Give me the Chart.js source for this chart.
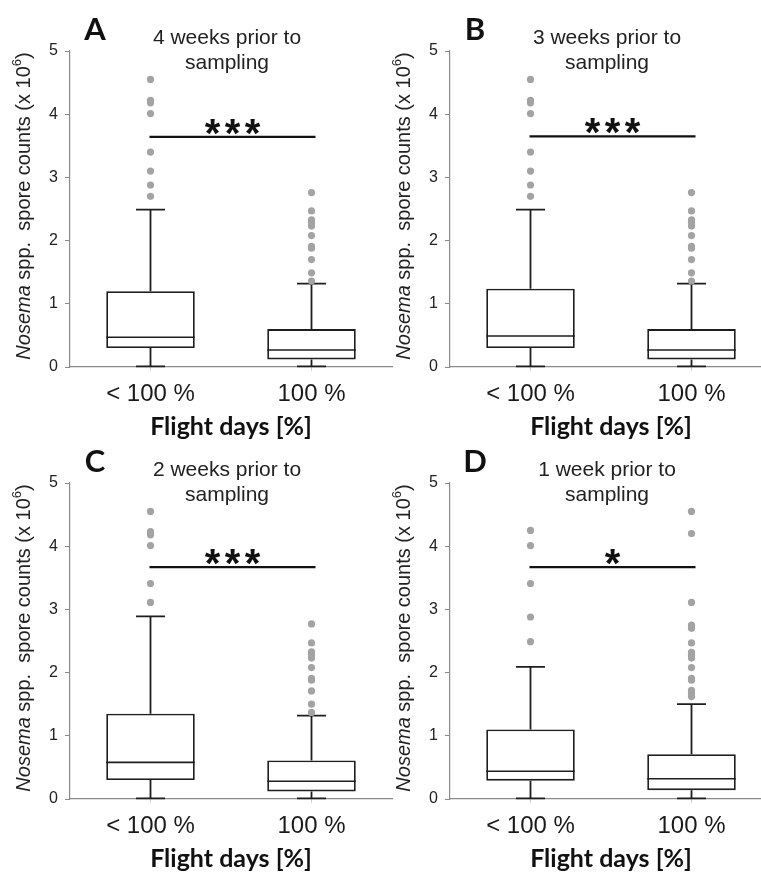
<!DOCTYPE html>
<html><head><meta charset="utf-8">
<script src="https://cdn.jsdelivr.net/npm/chart.js@4.4.1/dist/chart.umd.min.js"></script>
<style>
html,body{margin:0;padding:0;background:#fff;overflow:hidden;width:761px;height:874px;position:relative;}
canvas{position:absolute;}
</style></head><body>
<canvas id="c0" width="400" height="442" style="left:0;top:0"></canvas>
<canvas id="c1" width="400" height="442" style="left:380px;top:0"></canvas>
<canvas id="c2" width="400" height="442" style="left:0;top:432px"></canvas>
<canvas id="c3" width="400" height="442" style="left:380px;top:432px"></canvas>
<script>
// ---- data (spore counts x 10^6) ----
const categories = ['< 100 %', '100 %'];
const panelLetters = ['A', 'B', 'C', 'D'];
const panelTitles = [
  ['4 weeks prior to', 'sampling'],
  ['3 weeks prior to', 'sampling'],
  ['2 weeks prior to', 'sampling'],
  ['1 week prior to', 'sampling']
];
const significance = ['***', '***', '***', '*'];
const significanceLevel = [3.64, 3.65, 3.67, 3.67];
const yTicks = [0, 1, 2, 3, 4, 5];
const xAxisTitle = 'Flight days [%]';

const lowerWhisker = [[0.01, 0.01], [0.01, 0.01], [0.01, 0.01], [0.01, 0.01]];
const q1Values     = [[0.30, 0.12], [0.30, 0.12], [0.30, 0.12], [0.29, 0.14]];
const medianValues = [[0.47, 0.27], [0.49, 0.27], [0.58, 0.28], [0.44, 0.32]];
const q3Values     = [[1.20, 0.60], [1.24, 0.60], [1.35, 0.61], [1.10, 0.71]];
const upperWhisker = [[2.49, 1.32], [2.49, 1.32], [2.89, 1.32], [2.09, 1.50]];

const outliersBelow100 = [
  [2.70, 2.88, 3.10, 3.40, 4.01, 4.18, 4.22, 4.55],
  [2.70, 2.88, 3.10, 3.40, 4.01, 4.18, 4.22, 4.55],
  [3.11, 3.41, 4.01, 4.18, 4.23, 4.55],
  [2.49, 2.88, 3.41, 4.01, 4.25]
];
const outliers100 = [
  [1.36, 1.49, 1.70, 1.88, 1.91, 2.08, 2.23, 2.29, 2.33, 2.47, 2.76],
  [1.36, 1.49, 1.70, 1.88, 1.91, 2.08, 2.23, 2.29, 2.33, 2.47, 2.76],
  [1.37, 1.50, 1.71, 1.88, 1.91, 2.08, 2.23, 2.29, 2.33, 2.47, 2.77],
  [1.62, 1.67, 1.72, 1.88, 1.91, 2.08, 2.23, 2.27, 2.32, 2.47, 2.70, 2.75, 3.11, 4.20, 4.55]
];

// ---- rendering ----
const INK = '#1e1e1e';
const AXIS = '#8a8a8a';
const SANS = '"Liberation Sans", Arial, sans-serif';
const BOLD = 'Lato, "Open Sans", sans-serif';

const boxPlugin = {
  id: 'boxParts',
  beforeDatasetsDraw(chart, args, opts) {
    const p = opts.panel;
    const {ctx, scales: {x, y}} = chart;
    ctx.save();
    ctx.strokeStyle = INK;
    ctx.lineWidth = 1.8;
    categories.forEach((c, i) => {
      const cx = x.getPixelForValue(i);
      const capHalf = 14.5;
      const segs = [[lowerWhisker[p][i], q1Values[p][i]], [q3Values[p][i], upperWhisker[p][i]]];
      ctx.beginPath();
      segs.forEach(([a, b]) => {
        ctx.moveTo(cx, y.getPixelForValue(a));
        ctx.lineTo(cx, y.getPixelForValue(b));
      });
      [lowerWhisker[p][i], upperWhisker[p][i]].forEach(v => {
        const py = y.getPixelForValue(v);
        ctx.moveTo(cx - capHalf, py);
        ctx.lineTo(cx + capHalf, py);
      });
      ctx.stroke();
    });
    ctx.restore();
  },
  afterDatasetsDraw(chart, args, opts) {
    const p = opts.panel;
    const {ctx, scales: {x, y}} = chart;
    const meta = chart.getDatasetMeta(0);
    ctx.save();
    ctx.strokeStyle = INK;
    ctx.lineWidth = 1.6;
    categories.forEach((c, i) => {
      const bar = meta.data[i];
      const half = bar.width / 2;
      const py = y.getPixelForValue(medianValues[p][i]);
      ctx.beginPath();
      ctx.moveTo(bar.x - half, py);
      ctx.lineTo(bar.x + half, py);
      ctx.stroke();
    });
    ctx.restore();
  }
};

const textPlugin = {
  id: 'panelText',
  afterDraw(chart, args, opts) {
    const p = opts.panel;
    const {ctx, chartArea: ca, scales: {x, y}} = chart;
    ctx.save();
    // panel letter
    ctx.fillStyle = '#111';
    ctx.textAlign = 'center';
    ctx.textBaseline = 'middle';
    ctx.font = 'bold 31px ' + BOLD;
    ctx.fillText(panelLetters[p], ca.left + 25, ca.top - 21);
    // panel title
    ctx.fillStyle = '#222';
    ctx.font = '21px ' + SANS;
    panelTitles[p].forEach((line, k) => ctx.fillText(line, ca.left + 157, ca.top - 13 + k * 25));
    // y-axis title with italic genus and superscript
    const parts = [
      {t: 'Nosema', f: 'italic 20px ' + SANS, dy: 0},
      {t: ' spp.  spore counts (x 10', f: '20px ' + SANS, dy: 0},
      {t: '6', f: '13px ' + SANS, dy: -7},
      {t: ')', f: '20px ' + SANS, dy: 0}
    ];
    let total = 0;
    parts.forEach(pt => { ctx.font = pt.f; pt.w = ctx.measureText(pt.t).width; total += pt.w; });
    ctx.translate(24, (ca.top + ca.bottom) / 2 - 3);
    ctx.rotate(-Math.PI / 2);
    ctx.textAlign = 'left';
    let cx = -total / 2;
    parts.forEach(pt => { ctx.font = pt.f; ctx.fillText(pt.t, cx, pt.dy); cx += pt.w; });
    ctx.setTransform(1, 0, 0, 1, 0, 0);
    ctx.restore();

    // significance bar and stars
    ctx.save();
    const x0 = x.getPixelForValue(0) - 1;
    const x1 = x.getPixelForValue(1) + 4;
    const ly = y.getPixelForValue(significanceLevel[p]);
    ctx.strokeStyle = '#111';
    ctx.lineWidth = 2.2;
    ctx.beginPath();
    ctx.moveTo(x0, ly);
    ctx.lineTo(x1, ly);
    ctx.stroke();
    ctx.fillStyle = '#111';
    ctx.font = 'bold 40px ' + SANS;
    ctx.textAlign = 'center';
    ctx.textBaseline = 'alphabetic';
    const n = significance[p].length;
    const mid = (x0 + x1) / 2;
    const m = ctx.measureText('*');
    const glyphCenter = (m.actualBoundingBoxAscent - m.actualBoundingBoxDescent) / 2;
    for (let k = 0; k < n; k++) {
      const sx = mid + (k - (n - 1) / 2) * 20;
      ctx.fillText('*', sx, ly - 10 + glyphCenter);
    }
    ctx.restore();
  }
};

Chart.defaults.font.family = SANS;
Chart.defaults.color = '#222';

for (let p = 0; p < 4; p++) {
  const outlierPoints = [];
  outliersBelow100[p].forEach(v => outlierPoints.push({x: categories[0], y: v}));
  outliers100[p].forEach(v => outlierPoints.push({x: categories[1], y: v}));
  new Chart(document.getElementById('c' + p), {
    type: 'bar',
    data: {
      labels: categories,
      datasets: [
        {
          type: 'bar',
          data: categories.map((c, i) => [q1Values[p][i], q3Values[p][i]]),
          backgroundColor: '#ffffff',
          borderColor: INK,
          borderWidth: 1.8,
          borderSkipped: false,
          barPercentage: 0.55,
          categoryPercentage: 1
        },
        {
          type: 'line',
          data: outlierPoints,
          showLine: false,
          pointRadius: 3.6,
          pointBackgroundColor: '#a3a3a3',
          pointBorderWidth: 0,
          pointBorderColor: '#a3a3a3'
        }
      ]
    },
    options: {
      responsive: false,
      animation: false,
      events: [],
      layout: {padding: {top: 51, right: 8, bottom: 0, left: 0}},
      plugins: {
        legend: {display: false},
        tooltip: {enabled: false},
        title: {display: false},
        boxParts: {panel: p},
        panelText: {panel: p}
      },
      scales: {
        x: {
          type: 'category',
          offset: true,
          grid: {display: true, drawOnChartArea: false, drawTicks: true, tickLength: 4, color: '#cfcfcf', offset: false},
          border: {display: true, color: AXIS, width: 1.2},
          ticks: {font: {size: 24, family: SANS}, color: '#1a1a1a', padding: 9},
          title: {display: true, text: xAxisTitle, font: {size: 25, weight: 'bold', family: BOLD}, color: '#111', padding: {top: 0, bottom: 0}},
          afterFit(scale) { scale.height = 75; }
        },
        y: {
          type: 'linear',
          min: 0, max: 5,
          afterBuildTicks(scale) { scale.ticks = yTicks.map(v => ({value: v})); },
          grid: {display: true, drawOnChartArea: false, drawTicks: true, tickLength: 5, color: AXIS},
          border: {display: true, color: AXIS, width: 1.2},
          ticks: {font: {size: 16, family: SANS}, color: '#222', padding: 7},
          afterFit(scale) { scale.width = 70; }
        }
      }
    },
    plugins: [boxPlugin, textPlugin]
  });
}
</script>
</body></html>
